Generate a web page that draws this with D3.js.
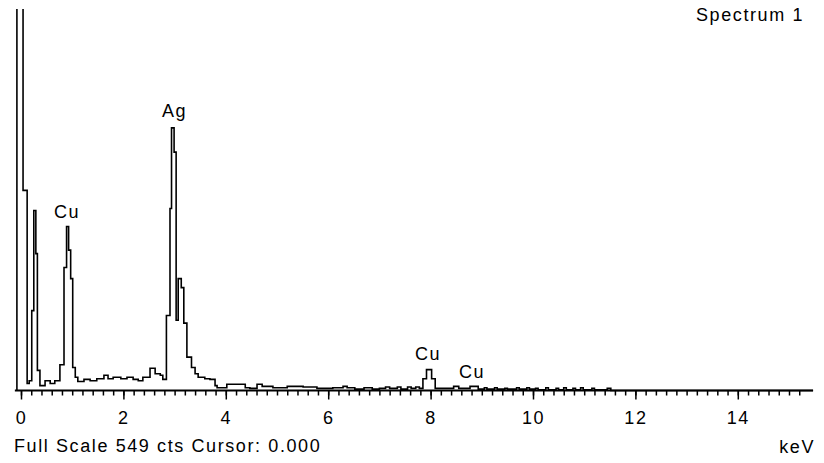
<!DOCTYPE html>
<html>
<head>
<meta charset="utf-8">
<script src="https://cdn.jsdelivr.net/npm/d3@7"></script>
<style>
  body { margin: 0; background: #fff; }
  text { font-family: "Liberation Sans", Arial, sans-serif; font-size: 18px; letter-spacing: 1.6px; fill: #000; }
</style>
</head>
<body>
<svg id="spectrum" width="824" height="463"></svg>
<script>
var svg = d3.select("#spectrum");

// spectrum drawn as steps: each step starts at stepKeV[i] with stepCounts[i] counts
var stepKeV = [-0.08, 0.04, 0.12, 0.16, 0.21, 0.25, 0.29, 0.32, 0.37, 0.47, 0.57, 0.66,
  0.76, 0.84, 0.89, 0.93, 0.97, 1.01, 1.06, 1.11, 1.23, 1.35, 1.48, 1.62, 1.70, 1.80,
  1.95, 2.07, 2.19, 2.29, 2.38, 2.52, 2.62, 2.72, 2.77, 2.84, 2.91, 2.94, 2.99, 3.03,
  3.07, 3.13, 3.18, 3.24, 3.33, 3.40, 3.46, 3.59, 3.69, 3.79, 3.83, 4.02, 4.38, 4.47,
  4.61, 4.71, 4.92, 5.20, 5.51, 5.78, 6.09, 6.29, 6.37, 6.52, 6.70, 6.86, 7.00, 7.12,
  7.20, 7.35, 7.42, 7.55, 7.62, 7.71, 7.78, 7.85, 7.92, 8.02, 8.09, 8.45, 8.55, 8.77,
  8.93, 9.05, 9.10, 9.25, 9.30, 9.45, 9.50, 9.68, 9.73, 9.88, 9.93, 10.05, 10.10, 10.25,
  10.30, 10.45, 10.50, 10.60, 10.65, 10.78, 10.83, 10.93, 10.98, 11.15, 11.20, 11.45,
  11.52, 15.47];
var stepCounts = [1500, 288, 10, 14, 115, 259, 197, 29, 7, 14, 10, 14,
  37, 177, 236, 202, 161, 33, 19, 13, 16, 14, 17, 22, 17, 19,
  17, 19, 16, 14, 19, 32, 24, 22, 16, 108, 262, 378, 343, 101,
  161, 148, 97, 48, 33, 24, 19, 17, 16, 7, 4, 9, 4, 3,
  9, 6, 4, 6, 5, 3, 4, 6, 4, 2, 4, 2, 3, 5,
  3, 5, 2, 5, 3, 5, 3, 17, 30, 17, 3, 6, 3, 6,
  2, 4, 2, 4, 2, 3, 2, 4, 2, 4, 2, 3, 1, 4,
  1, 3, 1, 4, 1, 3, 1, 4, 1, 3, 1, 3,
  0, 0];

// element labels
var peakNames = ["Cu", "Ag", "Cu", "Cu"];
var peakKeV = [0.90, 3.00, 7.95, 8.81];
var peakLabelCounts = [248, 394, 44, 18];

var majorTicks = [0, 2, 4, 6, 8, 10, 12, 14];
var fullScale = 549;
var title = "Spectrum 1";
var footer = "Full Scale 549 cts Cursor: 0.000";
var unit = "keV";

var x = d3.scaleLinear().domain([0, 15.5]).range([21, 21 + 15.5 * 51.2]);
var y = d3.scaleLinear().domain([0, fullScale]).range([390.5, 9]);

svg.append("clipPath").attr("id", "plotclip")
  .append("rect")
  .attr("x", 0).attr("y", y(fullScale))
  .attr("width", 824).attr("height", y(0) - y(fullScale) + 2);

// minor ticks every 0.2 keV
var minorAxis = d3.axisBottom(x)
  .tickValues(d3.range(0, 77).map(function (i) { return i * 0.2; }))
  .tickSize(5)
  .tickFormat("");
var gMinor = svg.append("g")
  .attr("transform", "translate(0," + y(0) + ")")
  .call(minorAxis);

// labelled ticks every 2 keV
var majorAxis = d3.axisBottom(x)
  .tickValues(majorTicks)
  .tickSize(9)
  .tickPadding(12)
  .tickFormat(d3.format("d"));
var gMajor = svg.append("g")
  .attr("transform", "translate(0," + y(0) + ")")
  .call(majorAxis);

[gMinor, gMajor].forEach(function (g) {
  g.select(".domain").remove();
  g.selectAll("line").attr("stroke", "#000").attr("stroke-width", 1.5);
  g.selectAll("text").attr("font-family", null).attr("font-size", null).attr("fill", "#000");
});

// baseline
svg.append("line")
  .attr("x1", x(-0.12)).attr("x2", x(15.47))
  .attr("y1", y(0)).attr("y2", y(0))
  .attr("stroke", "#000").attr("stroke-width", 1.8);

// spectrum trace
var pts = [{ e: stepKeV[0], c: 0 }];
stepKeV.forEach(function (e, i) { pts.push({ e: e, c: stepCounts[i] }); });

var line = d3.line()
  .x(function (d) { return x(d.e); })
  .y(function (d) { return y(d.c); })
  .curve(d3.curveStepAfter);

svg.append("path")
  .datum(pts)
  .attr("clip-path", "url(#plotclip)")
  .attr("d", line)
  .attr("fill", "none")
  .attr("stroke", "#000")
  .attr("stroke-width", 1.6);

// peak labels
peakNames.forEach(function (name, i) {
  svg.append("text")
    .attr("x", x(peakKeV[i]))
    .attr("y", y(peakLabelCounts[i]))
    .attr("text-anchor", "middle")
    .text(name);
});

svg.append("text")
  .attr("x", 804)
  .attr("y", 21)
  .attr("text-anchor", "end")
  .text(title);

svg.append("text")
  .attr("x", 14)
  .attr("y", 452)
  .text(footer);

svg.append("text")
  .attr("x", 815)
  .attr("y", 453)
  .attr("text-anchor", "end")
  .text(unit);
</script>
</body>
</html>
